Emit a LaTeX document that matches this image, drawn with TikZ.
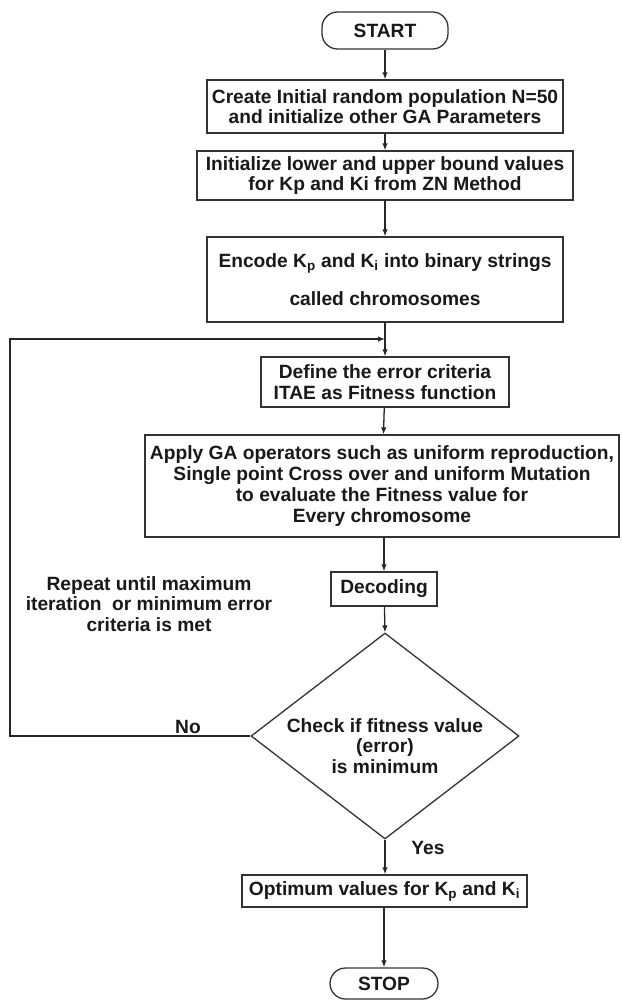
\documentclass[tikz,border=0pt]{standalone}
\usepackage{fontspec}
\setmainfont{Liberation Sans}
\usetikzlibrary{arrows.meta,shapes.geometric}
\begin{document}
\begin{tikzpicture}[x=1pt,y=-1pt,
  every node/.style={font=\fontsize{19.2}{20.7}\selectfont\bfseries, text=black!90},
  proc/.style={draw=black!80, line width=1.3pt, inner sep=0pt, align=center, fill=white},
  term/.style={proc, rounded corners=15.5pt},
  arr/.style={draw=black!85, line width=1.3pt, -{Latex[length=7pt,width=5.5pt]}},
  lbl/.style={align=center, inner sep=0pt}]
\useasboundingbox (0,0) rectangle (621,1000);
\node[term, minimum width=126pt, minimum height=37pt] (start) at (385,30.5) {START};
\node[proc, minimum width=356pt, minimum height=53pt] (b1) at (385,106.5)
  {Create Initial random population N=50\\and initialize other GA Parameters};
\node[proc, minimum width=376pt, minimum height=49pt] (b2) at (385,175.5)
  {Initialize lower and upper bound values\\for Kp and Ki from ZN Method};
\node[proc, minimum width=356pt, minimum height=85pt] (b3) at (385,279.5)
  {Encode K\textsubscript{p} and K\textsubscript{i} into binary strings\\[17.3pt]called chromosomes};
\node[proc, minimum width=248pt, minimum height=50pt] (b4) at (385,382)
  {Define the error criteria\\ITAE as Fitness function};
\node[proc, minimum width=474pt, minimum height=102pt] (b5) at (382,486)
  {Apply GA operators such as uniform reproduction,\\Single point Cross over and uniform Mutation\\to evaluate the Fitness value for\\Every chromosome};
\node[proc, minimum width=106pt, minimum height=34pt] (dec) at (384,589) {Decoding};
\node[draw=black!80, line width=1.3pt, diamond, minimum width=268pt, minimum height=206pt, inner sep=0pt] (chk) at (385,736) {};
\node[lbl] (chkt) at (385,746) {Check if fitness value\\(error)\\is minimum};
\node[proc, minimum width=285pt, minimum height=32pt] (opt) at (384.5,891)
  {Optimum values for K\textsubscript{p} and K\textsubscript{i}};
\node[term, minimum width=108pt, minimum height=31pt] (stop) at (384,983.5) {STOP};
\node[lbl] (rep) at (149,604) {Repeat until maximum\\iteration\ \ or minimum error\\criteria is met};
\node[lbl] (no) at (188,727) {No};
\node[lbl] (yes) at (428,848) {Yes};
\coordinate (j) at (385,339);
\coordinate (lc) at (10,339);
\draw[arr] (start) -- (b1);
\draw[arr] (b1) -- (b2);
\draw[arr] (b2) -- (b3);
\draw[arr] (b3) -- (b4);
\draw[arr] (b4) -- (b5);
\draw[arr] (b5.south -| dec) -- (dec);
\draw[arr] (dec) -- (chk.north);
\draw[arr] (chk.south) -- (opt.north -| chk.south);
\draw[arr] (opt.south -| stop) -- (stop);
\draw[arr] (chk.west) -| (lc) -- (j);
\end{tikzpicture}
\end{document}
